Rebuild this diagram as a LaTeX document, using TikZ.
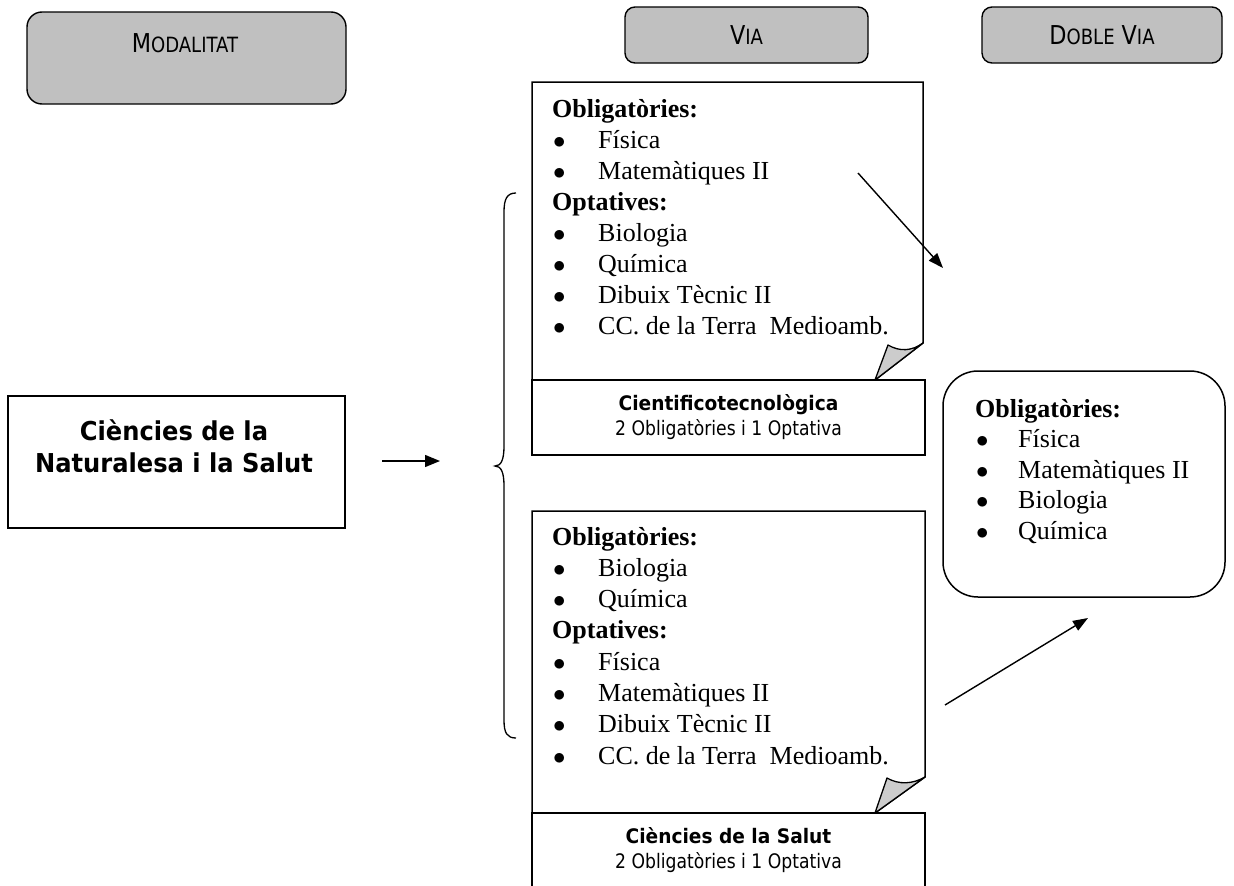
\documentclass[tikz,border=0pt]{standalone}
\usepackage{fontspec}
\setmainfont{Liberation Serif}
\newfontfamily\tah[FakeStretch=0.86]{DejaVu Sans}
\newfontfamily\tahb[FakeStretch=0.93]{DejaVu Sans}
\usetikzlibrary{arrows.meta}
\definecolor{hdrgray}{HTML}{C0C0C0}
\definecolor{flapgray}{HTML}{CCCCCC}
\newcommand\bul[1][46pt]{\makebox[#1][l]{\hspace{1pt}$\bullet$}}
\newcommand\hsc[2]{{\fontsize{26}{30}\selectfont #1}{\fontsize{21}{25}\selectfont #2}}
\begin{document}
\begin{tikzpicture}[x=1pt,y=-1pt,
  hdrbox/.style={draw, line width=1.4pt, fill=hdrgray, inner sep=0pt},
  plainbox/.style={draw, line width=1.5pt, inner sep=0pt},
  docline/.style={draw, line width=1.5pt, line join=miter},
  flap/.style={draw, line width=1.3pt, fill=flapgray, line join=round},
  labeltext/.style={align=center, font=\tah\fontsize{20}{25}\selectfont},
  conn/.style={line width=1.4pt, -{Triangle[length=15pt,width=11pt]}},
  listtext/.style={anchor=base west, inner sep=0pt}
]
\useasboundingbox (0,0) rectangle (1234,886);
\clip (0,0) rectangle (1234,886);

% headers
\node[hdrbox, rounded corners=15pt, minimum width=319pt, minimum height=92pt] (modal) at (186.5,58) {};
\node[inner sep=0pt] (modaltxt) at (185,43) {\tah\hsc{M}{ODALITAT}};
\node[hdrbox, rounded corners=10pt, minimum width=243pt, minimum height=56pt] (via) at (746.5,35) {\tah\hsc{V}{IA}};
\node[hdrbox, rounded corners=10pt, minimum width=240pt, minimum height=56pt] (dvia) at (1102,35) {\tah\hsc{D}{OBLE}\hspace{7pt}\hsc{V}{IA}};

% main box
\node[plainbox, line width=1.7pt, minimum width=337pt, minimum height=132pt] (main) at (176.5,462) {};
\node[align=center, inner sep=0pt, font=\tahb\bfseries\fontsize{26}{32}\selectfont] (maintxt) at (174,446) {Ciències de la\\Naturalesa i la Salut};

% arrow to brace
\coordinate (m1) at (382,461);
\coordinate (m2) at (440,461);
\draw[line width=1.4pt, -{Triangle[length=15pt,width=12pt]}] (m1) -- (m2);

% brace
\draw[line width=1.3pt] (516,193) .. controls (507,193) and (504,199) .. (504,212) -- (504,446)
  .. controls (504,460) and (501,466) .. (495,466)
  .. controls (501,466) and (504,472) .. (504,486) -- (504,720)
  .. controls (504,733) and (507,738) .. (516,738);

% document 1
\draw[docline] (532,82) -- (923,82) -- (923,343) -- (875,380) -- (532,380) -- cycle;
\filldraw[flap] (875,380) -- (888,345) .. controls (900,352) and (912,351) .. (923,343) -- cycle;
\node[listtext] (doc1txt) at (552,117) {\parbox[t]{360pt}{\raggedright\fontsize{26}{31}\selectfont
  \textbf{Obligatòries:}\\
  \bul Física\\
  \bul Matemàtiques II\\
  \textbf{Optatives:}\\
  \bul Biologia\\
  \bul Química\\
  \bul Dibuix Tècnic II\\
  \bul CC. de la Terra~~Medioamb.}};
\node[plainbox, minimum width=393pt, minimum height=75pt, labeltext] (lab1) at (728.5,417.5)
  {{\tahb\bfseries Cientificotecnològica}\\2 Obligatòries i 1 Optativa};

% document 2
\draw[docline] (532,511) -- (925,511) -- (925,777) -- (875,813) -- (532,813) -- cycle;
\filldraw[flap] (875,813) -- (887,778) .. controls (899,785) and (913,784) .. (925,777) -- cycle;
\node[listtext] (doc2txt) at (552,545) {\parbox[t]{360pt}{\raggedright\fontsize{26}{31.3}\selectfont
  \textbf{Obligatòries:}\\
  \bul Biologia\\
  \bul Química\\
  \textbf{Optatives:}\\
  \bul Física\\
  \bul Matemàtiques II\\
  \bul Dibuix Tècnic II\\
  \bul CC. de la Terra~~Medioamb.}};
\node[plainbox, minimum width=393pt, minimum height=75pt, labeltext] (lab2) at (728.5,850.5)
  {{\tahb\bfseries Ciències de la Salut}\\2 Obligatòries i 1 Optativa};

% doble via box
\node[plainbox, rounded corners=35pt, minimum width=282pt, minimum height=226pt] (dv) at (1084,484) {};
\node[listtext] (dvtxt) at (975,417) {\parbox[t]{240pt}{\raggedright\fontsize{26}{30.5}\selectfont
  \textbf{Obligatòries:}\\
  \bul[43pt]Física\\
  \bul[43pt]Matemàtiques II\\
  \bul[43pt]Biologia\\
  \bul[43pt]Química}};

% arrows to doble via
\coordinate (a1s) at (858,173);
\coordinate (a1e) at (943,268);
\coordinate (a2s) at (945,705);
\coordinate (a2e) at (1088,618);
\draw[conn] (a1s) -- (a1e);
\draw[conn] (a2s) -- (a2e);
\end{tikzpicture}
\end{document}
